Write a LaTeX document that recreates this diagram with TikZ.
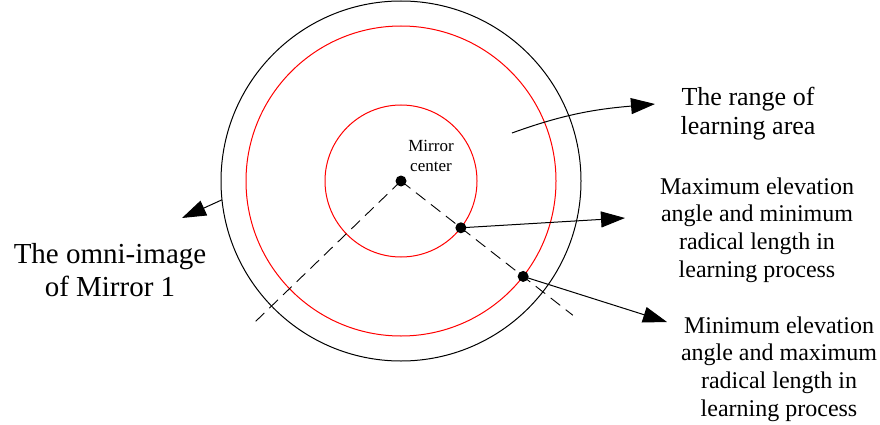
\documentclass[tikz,border=0pt]{standalone}
\usepackage{fontspec}
\setmainfont{Liberation Serif}
\usetikzlibrary{arrows.meta}

\begin{document}
\begin{tikzpicture}[
    x=1pt, y=1pt,
    ring/.style={line width=1pt, draw=#1},
    ring/.default=black,
    axis line/.style={line width=0.9pt, dash pattern=on 12pt off 7pt},
    arr/.style={-{Triangle[length=24pt, width=16pt]}, line width=1pt},
    dot/.style={circle, fill=black, inner sep=0pt, minimum size=11pt},
    lbl/.style={align=center, inner sep=0pt},
]
\useasboundingbox (0,0) rectangle (880,-425);

% Circles
\coordinate (c) at (401,-181);
\draw[ring] (c) circle[radius=180pt];
\draw[ring=red] (c) circle[radius=155pt];
\draw[ring=red] (c) circle[radius=76pt];

% Dashed lines from the center
\draw[axis line] (c) -- ++(-38:218);
\draw[axis line] (c) -- ++(224:205);

% Dots
\node[dot] (mid) at (c) {};
\path (c) ++(-38:76) node[dot] (innerdot) {};
\path (c) ++(-38:155) node[dot] (outerdot) {};
\path (c) ++(186:180) coordinate (rim);

% Labels
\node[lbl, font=\fontsize{17}{20}\selectfont] (mirror) at (431,-156) {Mirror\\center};
\node[lbl, font=\fontsize{29}{33}\selectfont] (omni) at (110,-270) {The omni-image\\of Mirror 1};
\node[lbl, font=\fontsize{26}{29}\selectfont] (range) at (748,-114) {The range of\\learning area};
\node[lbl, font=\fontsize{24}{27.6}\selectfont] (maxtxt) at (757,-230) {Maximum elevation\\angle and minimum\\radical length in\\learning process};
\node[lbl, font=\fontsize{24}{27.6}\selectfont] (mintxt) at (779,-369) {Minimum elevation\\angle and maximum\\radical length in\\learning process};

% Arrow ends
\coordinate (omnitip) at (182,-218);
\coordinate (rangefrom) at (512,-133);
\coordinate (rangetip) at (655,-104);
\coordinate (maxtip) at (625,-218);
\coordinate (mintip) at (667,-322);

% Arrows
\draw[arr] (rim) -- (omnitip);
\draw[arr] (rangefrom) to[out=20, in=185] (rangetip);
\draw[arr] (innerdot.center) -- (maxtip);
\draw[arr] (outerdot.center) -- (mintip);

\end{tikzpicture}
\end{document}
